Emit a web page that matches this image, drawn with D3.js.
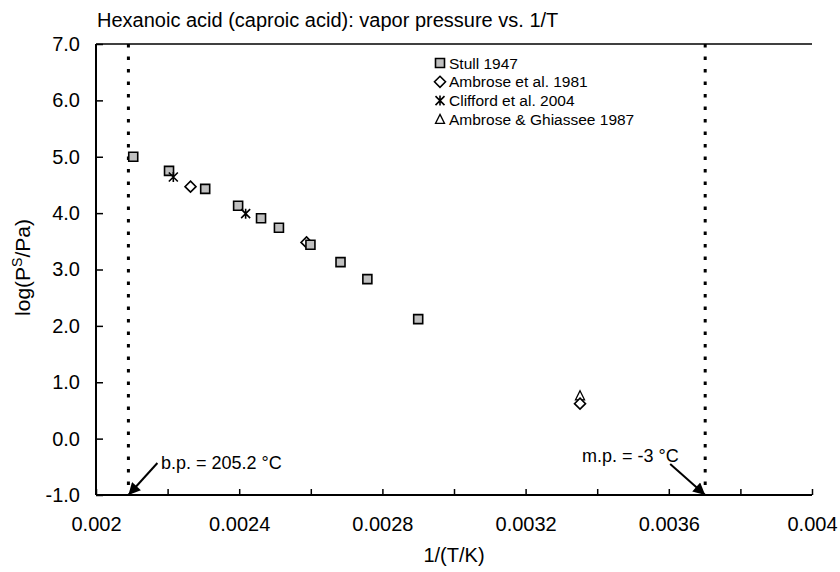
<!DOCTYPE html>
<html><head><meta charset="utf-8">
<script src="https://cdn.jsdelivr.net/npm/d3@7"></script>
<style>body{margin:0;background:#fff}svg{display:block;font-family:"Liberation Sans",Arial,sans-serif}</style>
</head><body><svg id="c" width="840" height="572"></svg>
<script>
// ---- data ----
const stullX = [0.002104, 0.002204, 0.002305, 0.002397, 0.002461, 0.002511, 0.002599, 0.002683, 0.002758, 0.002900];
const stullY = [5.00, 4.75, 4.43, 4.13, 3.91, 3.74, 3.44, 3.13, 2.83, 2.12];
const ambroseX = [0.002264, 0.002588, 0.003352];
const ambroseY = [4.47, 3.48, 0.62];
const cliffordX = [0.002216, 0.002418];
const cliffordY = [4.64, 3.99];
const ghiasseeX = [0.003352];
const ghiasseeY = [0.76];
const seriesNames = ["Stull 1947", "Ambrose et al. 1981", "Clifford et al. 2004", "Ambrose & Ghiassee 1987"];
const xTickValues = [0.002, 0.0022, 0.0024, 0.0026, 0.0028, 0.003, 0.0032, 0.0034, 0.0036, 0.0038, 0.004];
const xTickLabels = ["0.002", "", "0.0024", "", "0.0028", "", "0.0032", "", "0.0036", "", "0.004"];
const yTickValues = [-1, 0, 1, 2, 3, 4, 5, 6, 7];
const yTickLabels = ["-1.0", "0.0", "1.0", "2.0", "3.0", "4.0", "5.0", "6.0", "7.0"];
const bpC = 205.2, mpC = -3;
const titleText = "Hexanoic acid (caproic acid): vapor pressure vs. 1/T";

// ---- layout ----
const L = 96, R = 812, T = 44, B = 495;
const svg = d3.select("#c");
const x = d3.scaleLinear().domain([0.002, 0.004]).range([L, R]);
const y = d3.scaleLinear().domain([-1, 7]).range([B, T]);

svg.append("text").attr("x", 97).attr("y", 27).attr("font-size", 20).text(titleText);

// axes
const xAxis = d3.axisBottom(x).tickValues(xTickValues).tickSize(-6).tickPadding(22)
  .tickFormat((d, i) => xTickLabels[i]);
const gx = svg.append("g").attr("transform", `translate(0,${B})`).call(xAxis);
const yAxis = d3.axisLeft(y).tickValues(yTickValues).tickSize(-7).tickPadding(16)
  .tickFormat((d, i) => yTickLabels[i]);
const gy = svg.append("g").attr("transform", `translate(${L},0)`).call(yAxis);
[gx, gy].forEach(g => {
  g.select(".domain").remove();
  g.selectAll(".tick line").attr("stroke", "#000").attr("stroke-width", 1.5);
  g.selectAll("text").attr("font-size", 20).attr("fill", "#000").attr("font-family", "Liberation Sans, Arial, sans-serif");
});
// frame lines
svg.append("line").attr("x1", L).attr("x2", R).attr("y1", B).attr("y2", B).attr("stroke", "#000").attr("stroke-width", 2);
svg.append("line").attr("x1", L).attr("x2", L).attr("y1", T).attr("y2", B).attr("stroke", "#000").attr("stroke-width", 2);
svg.append("line").attr("x1", L).attr("x2", R).attr("y1", T).attr("y2", T).attr("stroke", "#000").attr("stroke-width", 1.5);

// axis titles
svg.append("text").attr("x", (L + R) / 2).attr("y", 562).attr("text-anchor", "middle").attr("font-size", 20).text("1/(T/K)");
const yt = svg.append("text").attr("transform", `translate(30,${(T + B) / 2 - 2}) rotate(-90)`).attr("text-anchor", "middle").attr("font-size", 21);
yt.append("tspan").text("log(P");
yt.append("tspan").attr("font-size", 14).attr("dy", -8).text("S");
yt.append("tspan").attr("dy", 8).text("/Pa)");

// vertical dotted lines
const bpX = 1 / (bpC + 273.15), mpX = 1 / (mpC + 273.15);
[bpX, mpX].forEach(v => {
  svg.append("line").attr("x1", x(v)).attr("x2", x(v)).attr("y1", T).attr("y2", B)
    .attr("stroke", "#000").attr("stroke-width", 3).attr("stroke-dasharray", "3.5,9");
});

// arrows
const defs = svg.append("defs");
defs.append("marker").attr("id", "ah").attr("viewBox", "0 0 10 10").attr("refX", 10).attr("refY", 5)
  .attr("markerWidth", 7).attr("markerHeight", 6).attr("markerUnits", "strokeWidth").attr("orient", "auto")
  .append("path").attr("d", "M0,0L10,5L0,10z").attr("fill", "#000");
svg.append("line").attr("x1", x(bpX) + 29).attr("y1", y(-1) - 32).attr("x2", x(bpX)).attr("y2", y(-1))
  .attr("stroke", "#000").attr("stroke-width", 2).attr("marker-end", "url(#ah)");
svg.append("text").attr("x", 161).attr("y", 469).attr("font-size", 18).text("b.p. = 205.2 °C");
svg.append("line").attr("x1", x(mpX) - 35).attr("y1", y(-1) - 31).attr("x2", x(mpX)).attr("y2", y(-1))
  .attr("stroke", "#000").attr("stroke-width", 2).attr("marker-end", "url(#ah)");
svg.append("text").attr("x", 582).attr("y", 462).attr("font-size", 18).text("m.p. = -3 °C");

// marker shapes
const shapes = {
  square: "M-4.5,-4.5H4.5V4.5H-4.5Z",
  diamond: "M0,-5.5L5.5,0L0,5.5L-5.5,0Z",
  star: "M0,-5V5M-4.5,-4.5L4.5,4.5M-4.5,4.5L4.5,-4.5",
  triangle: "M0,-5L4.5,4L-4.5,4Z"
};
const styleOf = {
  square: s => s.attr("fill", "#c0c0c0").attr("stroke", "#000").attr("stroke-width", 1.6),
  diamond: s => s.attr("fill", "#fff").attr("stroke", "#000").attr("stroke-width", 1.6),
  star: s => s.attr("fill", "none").attr("stroke", "#000").attr("stroke-width", 1.6),
  triangle: s => s.attr("fill", "#fff").attr("stroke", "#000").attr("stroke-width", 1.3)
};
function drawSeries(xs, ys, shape) {
  const pts = xs.map((v, i) => [v, ys[i]]);
  svg.append("g").selectAll("path").data(pts).join("path")
    .attr("transform", d => `translate(${x(d[0])},${y(d[1])})`)
    .attr("d", shapes[shape]).call(styleOf[shape]);
}
drawSeries(ghiasseeX, ghiasseeY, "triangle");
drawSeries(ambroseX, ambroseY, "diamond");
drawSeries(stullX, stullY, "square");
drawSeries(cliffordX, cliffordY, "star");

// legend
const legShapes = ["square", "diamond", "star", "triangle"];
seriesNames.forEach((n, i) => {
  const ly = 63 + i * 18.8;
  svg.append("path").attr("transform", `translate(440,${ly})`).attr("d", shapes[legShapes[i]]).call(styleOf[legShapes[i]]);
  svg.append("text").attr("x", 449).attr("y", ly + 5.5).attr("font-size", 15.5).text(n);
});
</script></body></html>
